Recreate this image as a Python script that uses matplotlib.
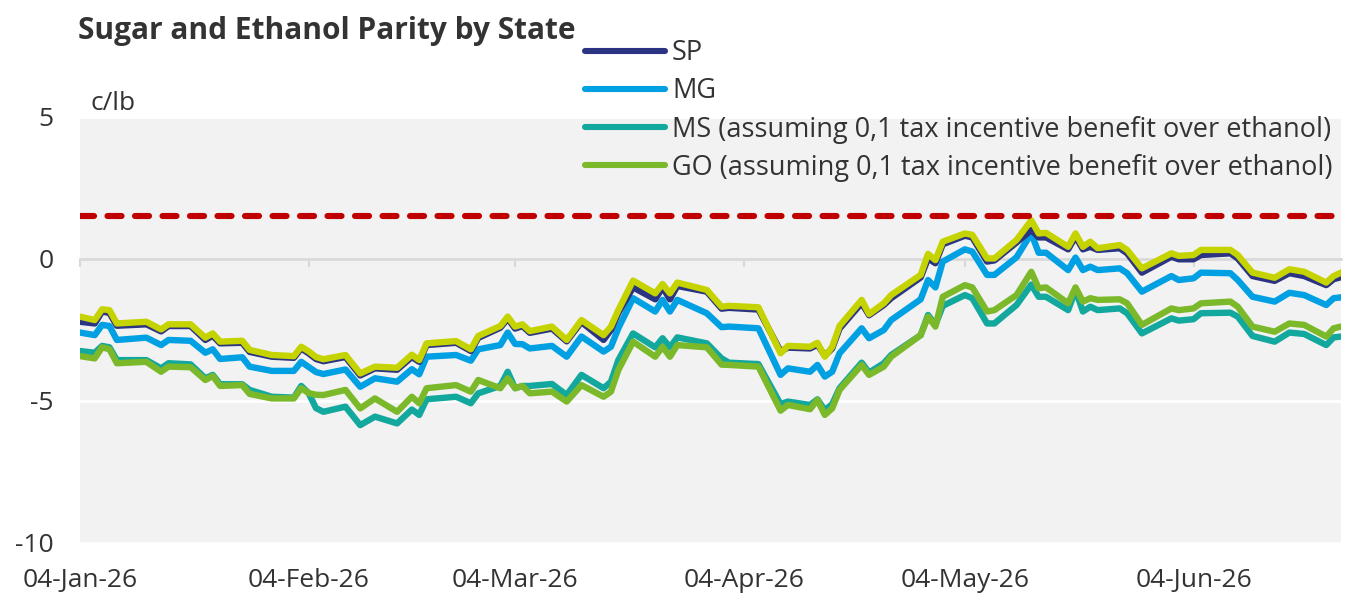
import numpy as np
import matplotlib
matplotlib.use("Agg")
import matplotlib.pyplot as plt
import matplotlib.dates as mdates
from matplotlib.lines import Line2D

plt.rcParams['font.family'] = ['Open Sans', 'DejaVu Sans']

start_date = np.datetime64('2026-01-04')
day_offset = [0, 2, 3, 4, 5, 9, 11, 12, 15, 17, 18, 19, 22, 23, 26, 29, 30, 31, 32, 33,
              36, 38, 40, 43, 45, 46, 47, 51, 53, 54, 57, 58, 59, 60, 61, 64, 66, 68, 71, 72,
              73, 75, 78, 79, 80, 81, 85, 87, 88, 92, 95, 96, 99, 100, 101, 102, 103, 106, 107, 109,
              110, 114, 115, 116, 117, 120, 121, 123, 124, 127, 129, 130, 131, 134, 135, 136, 137, 138, 141, 142,
              144, 148, 149, 151, 152, 156, 157, 159, 162, 164, 166, 169, 170, 171]

lime = [-2.03, -2.15, -1.77, -1.80, -2.27, -2.21, -2.48, -2.30, -2.30, -2.77, -2.62, -2.91, -2.88, -3.20, -3.38, -3.42, -3.09, -3.25, -3.45, -3.53,
        -3.38, -4.03, -3.79, -3.83, -3.37, -3.56, -2.97, -2.89, -3.18, -2.71, -2.36, -2.03, -2.38, -2.30, -2.54, -2.38, -2.85, -2.15, -2.68, -2.38,
        -1.80, -0.76, -1.21, -0.88, -1.21, -0.83, -1.09, -1.68, -1.65, -1.70, -3.32, -3.06, -3.09, -2.95, -3.44, -3.09, -2.36, -1.44, -1.94, -1.56,
        -1.27, -0.56, 0.18, -0.04, 0.61, 0.90, 0.85, 0.02, 0.02, 0.67, 1.36, 0.90, 0.92, 0.43, 0.90, 0.43, 0.61, 0.38, 0.49, 0.32,
        -0.33, 0.20, 0.11, 0.14, 0.32, 0.32, 0.14, -0.48, -0.66, -0.36, -0.45, -0.83, -0.60, -0.48]

sp = [-2.21, -2.27, -1.85, -1.90, -2.35, -2.30, -2.55, -2.36, -2.36, -2.85, -2.70, -2.97, -2.95, -3.27, -3.44, -3.48, -3.15, -3.32, -3.52, -3.60,
      -3.45, -4.10, -3.85, -3.90, -3.45, -3.62, -3.03, -2.95, -3.24, -2.78, -2.42, -2.10, -2.45, -2.36, -2.60, -2.45, -2.90, -2.22, -2.85, -2.50,
      -1.90, -1.00, -1.42, -1.00, -1.42, -0.95, -1.15, -1.75, -1.72, -1.78, -3.25, -3.12, -3.15, -3.02, -3.40, -3.15, -2.45, -1.55, -1.98, -1.62,
      -1.38, -0.65, 0.02, -0.15, 0.52, 0.82, 0.76, -0.09, -0.05, 0.58, 1.02, 0.76, 0.76, 0.34, 0.79, 0.34, 0.43, 0.32, 0.38, 0.20,
      -0.48, 0.08, -0.01, -0.01, 0.14, 0.20, 0.02, -0.60, -0.77, -0.50, -0.60, -0.92, -0.71, -0.64]

mg = [-2.59, -2.68, -2.32, -2.36, -2.85, -2.77, -3.03, -2.85, -2.88, -3.30, -3.18, -3.52, -3.46, -3.79, -3.94, -3.94, -3.62, -3.80, -3.98, -4.05,
      -3.89, -4.50, -4.20, -4.32, -3.88, -4.06, -3.44, -3.38, -3.58, -3.18, -3.03, -2.59, -2.99, -3.00, -3.15, -3.06, -3.44, -2.73, -3.26, -3.09,
      -2.44, -1.38, -1.85, -1.44, -1.85, -1.44, -1.91, -2.40, -2.38, -2.44, -4.08, -3.85, -3.97, -3.73, -4.14, -3.97, -3.32, -2.44, -2.79, -2.50,
      -2.15, -1.42, -0.74, -1.00, -0.09, 0.34, 0.26, -0.56, -0.56, 0.06, 0.90, 0.22, 0.22, -0.39, 0.05, -0.39, -0.27, -0.39, -0.33, -0.50,
      -1.15, -0.60, -0.74, -0.68, -0.48, -0.50, -0.74, -1.33, -1.50, -1.19, -1.27, -1.62, -1.38, -1.35]

ms = [-3.24, -3.30, -3.06, -3.11, -3.56, -3.56, -3.85, -3.67, -3.71, -4.20, -4.08, -4.41, -4.41, -4.61, -4.85, -4.88, -4.47, -4.72, -5.25, -5.38,
      -5.20, -5.85, -5.55, -5.79, -5.30, -5.49, -4.94, -4.85, -5.08, -4.73, -4.47, -3.97, -4.55, -4.47, -4.47, -4.40, -4.79, -4.08, -4.55, -4.32,
      -3.56, -2.62, -3.11, -2.79, -3.11, -2.76, -2.97, -3.50, -3.65, -3.70, -5.11, -5.02, -5.14, -4.94, -5.32, -5.11, -4.55, -3.65, -4.00, -3.67,
      -3.38, -2.68, -1.97, -2.32, -1.65, -1.27, -1.38, -2.27, -2.27, -1.62, -0.90, -1.33, -1.33, -1.80, -1.09, -1.85, -1.68, -1.80, -1.74, -1.91,
      -2.62, -2.09, -2.17, -2.12, -1.91, -1.89, -2.03, -2.71, -2.91, -2.59, -2.64, -3.03, -2.76, -2.73]

go = [-3.42, -3.50, -3.11, -3.18, -3.67, -3.62, -3.97, -3.79, -3.81, -4.26, -4.12, -4.47, -4.44, -4.75, -4.91, -4.91, -4.55, -4.72, -4.78, -4.79,
      -4.61, -5.26, -4.91, -5.38, -4.85, -5.08, -4.55, -4.44, -4.67, -4.26, -4.55, -4.20, -4.55, -4.47, -4.73, -4.67, -5.02, -4.44, -4.85, -4.67,
      -3.91, -2.91, -3.44, -3.09, -3.44, -3.03, -3.11, -3.72, -3.73, -3.79, -5.34, -5.14, -5.29, -4.96, -5.49, -5.26, -4.61, -3.73, -4.08, -3.79,
      -3.44, -2.68, -2.03, -2.38, -1.33, -0.92, -1.00, -1.85, -1.80, -1.27, -0.45, -1.03, -1.00, -1.56, -1.00, -1.50, -1.38, -1.44, -1.42, -1.56,
      -2.32, -1.74, -1.80, -1.74, -1.56, -1.50, -1.68, -2.38, -2.56, -2.27, -2.32, -2.73, -2.44, -2.38]

threshold = 1.5

labels = ['SP', 'MG',
          'MS (assuming 0,1 tax incentive benefit over ethanol)',
          'GO (assuming 0,1 tax incentive benefit over ethanol)']
tick_dates = ['2026-01-04', '2026-02-04', '2026-03-04', '2026-04-04', '2026-05-04', '2026-06-04']
y_ticks = [5, 0, -5, -10]

dates = start_date + np.array(day_offset).astype('timedelta64[D]')

TXT = '#333333'
C_SP, C_MG, C_MS, C_GO, C_LIME = '#2b3483', '#00a0e3', '#13a89e', '#7cb92a', '#c5d300'

fig = plt.figure(figsize=(13.71, 6.13), dpi=100)
ax = fig.add_axes([80/1371, 1-543/613, (1341-80)/1371, (543-117)/613])
ax.set_facecolor('#f2f2f2')

lw = 4.6
ax.plot(dates, ms, color=C_MS, lw=lw, solid_joinstyle='round', zorder=3)
ax.plot(dates, go, color=C_GO, lw=lw, solid_joinstyle='round', zorder=4)
ax.plot(dates, mg, color=C_MG, lw=lw, solid_joinstyle='round', zorder=5)
ax.plot(dates, sp, color=C_SP, lw=lw, solid_joinstyle='round', zorder=6)
ax.plot(dates, lime, color=C_LIME, lw=lw, solid_joinstyle='round', zorder=7)
ax.axhline(threshold, color='#c00000', lw=4.4, dashes=(2.3, 2.2), dash_capstyle='round', zorder=8)

ax.set_ylim(-10, 5)
ax.set_xlim(start_date, start_date + np.timedelta64(171, 'D'))
ax.set_yticks(y_ticks)
ax.set_yticklabels([str(v) for v in y_ticks])
ax.tick_params(axis='y', length=0, pad=19, labelsize=19, labelcolor=TXT)
ax.yaxis.grid(True, color='white', lw=2)
ax.set_axisbelow(True)

for s in ['top', 'right', 'left']:
    ax.spines[s].set_visible(False)
ax.spines['bottom'].set_position(('data', 0))
ax.spines['bottom'].set_color('#d9d9d9')
ax.spines['bottom'].set_linewidth(2)
ax.spines['bottom'].set_zorder(2)
tdates = np.array(tick_dates, dtype='datetime64[D]')
ax.set_xticks(tdates)
ax.tick_params(axis='x', direction='out', length=6, width=1.5, color='#d9d9d9', labelbottom=False)

sec = ax.secondary_xaxis('bottom')
sec.set_xticks(tdates)
sec.xaxis.set_major_formatter(mdates.DateFormatter('%d-%b-%y'))
sec.tick_params(length=0, pad=18, labelsize=19, labelcolor=TXT)
sec.spines['bottom'].set_visible(False)

fig.text(78/1371, 1-31/613, 'Sugar and Ethanol Parity by State', fontsize=21.5, fontweight='bold',
         color=TXT, ha='left', va='center')
fig.text(91/1371, 1-103/613, 'c/lb', fontsize=19, color=TXT, ha='left', va='center')

handles = [Line2D([], [], color=c, lw=4.4, solid_capstyle='round')
           for c in [C_SP, C_MG, C_MS, C_GO]]
leg = fig.legend(handles, labels, loc='upper left', bbox_to_anchor=(585/1371, 1-39/613),
                 frameon=False, fontsize=19.5, handlelength=2.95, handletextpad=0.26,
                 labelspacing=0.38, borderpad=0, borderaxespad=0)
for t in leg.get_texts():
    t.set_color(TXT)

fig.savefig('out.png', dpi=100)
